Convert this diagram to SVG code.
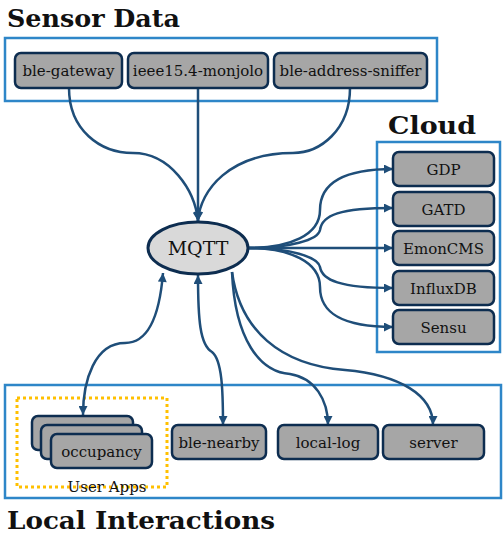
<svg xmlns="http://www.w3.org/2000/svg" width="504" height="535" viewBox="0 0 504 535">
<defs>
<style>
.box{fill:none;stroke:#2e86c8;stroke-width:2.5}
.node rect{fill:#a6a6a6;stroke:#0d2d50;stroke-width:2.5}
.node text,.lbl{font-family:"DejaVu Serif","Liberation Serif",serif;font-size:15px;fill:#111;text-anchor:middle}
.title{font-family:"DejaVu Serif","Liberation Serif",serif;font-weight:bold;font-size:24px;fill:#111}
.conn path{fill:none;stroke:#1f4e79;stroke-width:2.5}
</style>
<marker id="ah" viewBox="0 0 10 10" refX="10" refY="5" markerWidth="10" markerHeight="9" markerUnits="userSpaceOnUse" orient="auto-start-reverse">
<path d="M0,0 L10,5 L0,10 Z" fill="#1f4e79"/>
</marker>
</defs>
<rect width="504" height="535" fill="#fff"/>

<g id="containers">
<rect class="box" x="5" y="38" width="432" height="63"/>
<rect class="box" x="377" y="142" width="123" height="210"/>
<rect class="box" x="5" y="385" width="496" height="113"/>
<rect x="17" y="398" width="150" height="89" fill="none" stroke="#ffc000" stroke-width="3" stroke-dasharray="3,3"/>
<text class="title" x="7" y="27" textLength="173" lengthAdjust="spacingAndGlyphs">Sensor Data</text>
<text class="title" x="388" y="134" textLength="88" lengthAdjust="spacingAndGlyphs">Cloud</text>
<text class="title" x="7" y="529" textLength="268" lengthAdjust="spacingAndGlyphs">Local Interactions</text>
<text class="lbl" x="107" y="492">User Apps</text>
</g>

<g id="connectors" class="conn">
<path d="M69,88 C69,130 100,153 133,153 C170,153 195,190 198,221" marker-end="url(#ah)"/>
<path d="M198,88 L198,221" marker-end="url(#ah)"/>
<path d="M350,88 C350,130 320,153 293,153 C230,153 200,190 198,221" marker-end="url(#ah)"/>
<path d="M248,248 C290,248 320,235 320,210 C320,185 340,169 393,169" marker-end="url(#ah)"/>
<path d="M248,248 C290,248 318,240 320,230 C322,215 340,208 393,208" marker-end="url(#ah)"/>
<path d="M248,248 L393,248" marker-end="url(#ah)"/>
<path d="M248,248 C290,248 318,257 320,267 C322,280 340,288 393,288" marker-end="url(#ah)"/>
<path d="M248,248 C290,248 320,262 320,287 C320,312 340,327 393,327" marker-end="url(#ah)"/>
<path d="M163,273 C160,310 150,343 125,343 C95,343 83,380 83,415" marker-start="url(#ah)" marker-end="url(#ah)"/>
<path d="M198,275 C198,320 200,345 212,352 C222,360 223,390 223,425" marker-start="url(#ah)" marker-end="url(#ah)"/>
<path d="M232,272 C235,340 260,372 290,374 C315,378 328,400 328,425" marker-end="url(#ah)"/>
<path d="M232,272 C240,330 280,365 345,370 C400,375 433,395 433,425" marker-end="url(#ah)"/>
</g>

<g id="mqtt"><ellipse cx="198" cy="248" rx="50" ry="26" fill="#d9d9d9" stroke="#0d2d50" stroke-width="3"/>
<text x="198" y="255" font-family="DejaVu Serif,Liberation Serif,serif" font-size="19" text-anchor="middle" fill="#111">MQTT</text></g>

<g id="ble-gateway" class="node"><rect x="15" y="53" width="107" height="35" rx="6"/><text x="68.5" y="76">ble-gateway</text></g>
<g id="ieee154-monjolo" class="node"><rect x="128" y="53" width="140" height="35" rx="6"/><text x="198" y="76">ieee15.4-monjolo</text></g>
<g id="ble-address-sniffer" class="node"><rect x="274" y="53" width="153" height="35" rx="6"/><text x="350.5" y="76">ble-address-sniffer</text></g>

<g id="gdp" class="node"><rect x="393" y="152" width="101" height="34" rx="6"/><text x="443.5" y="174.5">GDP</text></g>
<g id="gatd" class="node"><rect x="393" y="192" width="101" height="34" rx="6"/><text x="443.5" y="214.5">GATD</text></g>
<g id="emoncms" class="node"><rect x="393" y="231" width="101" height="34" rx="6"/><text x="443.5" y="253.5">EmonCMS</text></g>
<g id="influxdb" class="node"><rect x="393" y="271" width="101" height="34" rx="6"/><text x="443.5" y="293.5">InfluxDB</text></g>
<g id="sensu" class="node"><rect x="393" y="310" width="101" height="34" rx="6"/><text x="443.5" y="332.5">Sensu</text></g>

<g id="occupancy" class="node"><rect x="32" y="416" width="101" height="34" rx="6"/><rect x="41" y="425" width="101" height="34" rx="6"/><rect x="51" y="434" width="101" height="34" rx="6"/><text x="101.5" y="456.5">occupancy</text></g>
<g id="ble-nearby" class="node"><rect x="172" y="425" width="94" height="34" rx="6"/><text x="219" y="447.5">ble-nearby</text></g>
<g id="local-log" class="node"><rect x="278" y="425" width="100" height="34" rx="6"/><text x="328" y="447.5">local-log</text></g>
<g id="server" class="node"><rect x="383" y="425" width="101" height="34" rx="6"/><text x="433.5" y="447.5">server</text></g>
</svg>
